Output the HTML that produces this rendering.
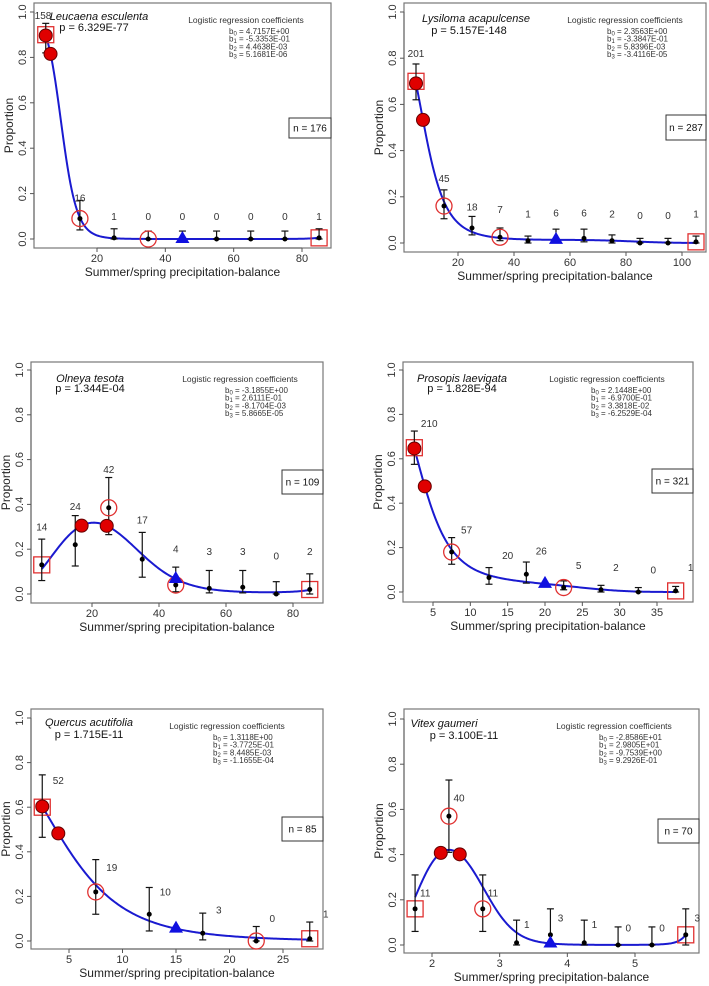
<!DOCTYPE html>
<html><head><meta charset="utf-8"><style>
html,body{margin:0;padding:0;background:#fff}
svg{display:block;font-family:"Liberation Sans",Arial,sans-serif}
</style></head><body>
<svg id="fig" width="709" height="986" viewBox="0 0 709 986"></svg>
<script>
// ---- data arrays (one set per panel) ----
const p1Species="Leucaena esculenta", p1P="p = 6.329E-77", p1Coef=[4.7157,-0.53353,4.4638e-3,5.1681e-6], p1CoefTxt=["4.7157E+00","-5.3353E-01","4.4638E-03","5.1681E-06"];
const p1X=[5,15,25,35,45,55,65,75,85], p1Y=[0.90,0.09,0.005,0,0,0,0,0,0.005], p1Lo=[0.82,0.04,0,0,0,0,0,0,0], p1Hi=[0.95,0.17,0.045,0.035,0.035,0.035,0.035,0.035,0.045];
const p1Cnt=["158","16","1","0","0","0","0","0","1"], p1LX=[4.2,15,25,35,45,55,65,75,85], p1LY=[0.985,0.18,0.10,0.10,0.10,0.10,0.10,0.10,0.10];
const p1Filled=[5,6.4], p1Open=[15,35], p1Sq=[5,85], p1Tri=[45], p1N="n = 176", p1XTicks=[20,40,60,80];

const p2Species="Lysiloma acapulcense", p2P="p = 5.157E-148", p2Coef=[2.3563,-0.33847,5.8396e-3,-3.4116e-5], p2CoefTxt=["2.3563E+00","-3.3847E-01","5.8396E-03","-3.4116E-05"];
const p2X=[5,15,25,35,45,55,65,75,85,95,105], p2Y=[0.70,0.16,0.065,0.025,0.01,0.025,0.02,0.01,0,0,0.005], p2Lo=[0.62,0.105,0.035,0.01,0,0.005,0.005,0,0,0,0], p2Hi=[0.775,0.23,0.115,0.065,0.03,0.06,0.06,0.035,0.02,0.02,0.03];
const p2Cnt=["201","45","18","7","1","6","6","2","0","0","1"], p2LX=[5,15,25,35,45,55,65,75,85,95,105], p2LY=[0.82,0.28,0.155,0.145,0.125,0.13,0.13,0.125,0.12,0.12,0.125];
const p2Filled=[5,7.5], p2Open=[15,35], p2Sq=[5,105], p2Tri=[55], p2N="n = 287", p2XTicks=[20,40,60,80,100];

const p3Species="Olneya tesota", p3P="p = 1.344E-04", p3Coef=[-3.1855,0.26111,-8.1704e-3,5.8665e-5], p3CoefTxt=["-3.1855E+00","2.6111E-01","-8.1704E-03","5.8665E-05"];
const p3X=[5,15,25,35,45,55,65,75,85], p3Y=[0.13,0.22,0.385,0.155,0.04,0.025,0.03,0,0.02], p3Lo=[0.06,0.125,0.265,0.075,0.01,0.005,0.005,0,0], p3Hi=[0.245,0.35,0.52,0.275,0.12,0.105,0.105,0.055,0.09];
const p3Cnt=["14","24","42","17","4","3","3","0","2"], p3LX=[5,15,25,35,45,55,65,75,85], p3LY=[0.30,0.39,0.555,0.33,0.20,0.19,0.19,0.17,0.19];
const p3Filled=[16.9,24.4], p3Open=[25,45], p3Sq=[5,85], p3Tri=[45], p3N="n = 109", p3XTicks=[20,40,60,80];

const p4Species="Prosopis laevigata", p4P="p = 1.828E-94", p4Coef=[2.1448,-0.697,3.3818e-2,-6.2529e-4], p4CoefTxt=["2.1448E+00","-6.9700E-01","3.3818E-02","-6.2529E-04"];
const p4X=[2.5,7.5,12.5,17.5,22.5,27.5,32.5,37.5], p4Y=[0.65,0.18,0.065,0.08,0.02,0.01,0,0.005], p4Lo=[0.575,0.125,0.035,0.04,0.01,0,0,0], p4Hi=[0.725,0.245,0.11,0.135,0.05,0.03,0.02,0.025];
const p4Cnt=["210","57","20","26","5","2","0","1"], p4LX=[4.5,9.5,15,19.5,24.5,29.5,34.5,39.5], p4LY=[0.76,0.28,0.165,0.185,0.12,0.11,0.10,0.11];
const p4Filled=[2.5,3.9], p4Open=[7.5,22.5], p4Sq=[2.5,37.5], p4Tri=[20], p4N="n = 321", p4XTicks=[5,10,15,20,25,30,35];

const p5Species="Quercus acutifolia", p5P="p = 1.715E-11", p5Coef=[1.3118,-0.37725,8.4485e-3,-1.1655e-4], p5CoefTxt=["1.3118E+00","-3.7725E-01","8.4485E-03","-1.1655E-04"];
const p5X=[2.5,7.5,12.5,17.5,22.5,27.5], p5Y=[0.60,0.22,0.12,0.035,0,0.01], p5Lo=[0.465,0.12,0.045,0.005,0,0], p5Hi=[0.745,0.365,0.24,0.125,0.065,0.085];
const p5Cnt=["52","19","10","3","0","1"], p5LX=[4,9,14,19,24,29], p5LY=[0.72,0.33,0.22,0.14,0.10,0.12];
const p5Filled=[2.5,4], p5Open=[7.5,22.5], p5Sq=[2.5,27.5], p5Tri=[15], p5N="n = 85", p5XTicks=[5,10,15,20,25];

const p6Species="Vitex gaumeri", p6P="p = 3.100E-11", p6Coef=[-28.586,29.805,-9.7539,0.92926], p6CoefTxt=["-2.8586E+01","2.9805E+01","-9.7539E+00","9.2926E-01"];
const p6X=[1.75,2.25,2.75,3.25,3.75,4.25,4.75,5.25,5.75], p6Y=[0.16,0.57,0.16,0.01,0.045,0.01,0,0,0.045], p6Lo=[0.06,0.41,0.06,0,0,0,0,0,0], p6Hi=[0.31,0.73,0.31,0.11,0.16,0.11,0.08,0.08,0.16];
const p6Cnt=["11","40","11","1","3","1","0","0","3"], p6LX=[1.9,2.4,2.9,3.4,3.9,4.4,4.9,5.4,5.92], p6LY=[0.23,0.65,0.23,0.09,0.12,0.09,0.075,0.075,0.12];
const p6Filled=[2.13,2.41], p6Open=[2.25,2.75], p6Sq=[1.75,5.75], p6Tri=[3.75], p6N="n = 70", p6XTicks=[2,3,4,5];

// ---- layout (pixel geometry, not data) ----
const panels=[
 {id:1,L:34,R:331,T:3,B:248,y1:12,y0:239,xa:20,pa:97,xb:80,pb:302,tx:65,px:60,hx:212,bx:195,nT:115,nH:20,nW:42,tb:17,pb2:28,
  sp:p1Species,p:p1P,c:p1Coef,ct:p1CoefTxt,X:p1X,Y:p1Y,Lo:p1Lo,Hi:p1Hi,C:p1Cnt,LX:p1LX,LY:p1LY,F:p1Filled,O:p1Open,S:p1Sq,Tr:p1Tri,N:p1N,XT:p1XTicks},
 {id:2,L:404,R:706,T:3,B:252,y1:12,y0:243,xa:20,pa:458,xb:100,pb:682,tx:72,px:65,hx:221,bx:203,nT:112,nH:25,nW:40,tb:19,pb2:31,
  sp:p2Species,p:p2P,c:p2Coef,ct:p2CoefTxt,X:p2X,Y:p2Y,Lo:p2Lo,Hi:p2Hi,C:p2Cnt,LX:p2LX,LY:p2LY,F:p2Filled,O:p2Open,S:p2Sq,Tr:p2Tri,N:p2N,XT:p2XTicks},
 {id:3,L:31,R:323,T:362,B:603,y1:370,y0:594,xa:20,pa:92,xb:80,pb:293,tx:59,px:59,hx:209,bx:194,nT:108,nH:24,nW:41,tb:20,pb2:30,
  sp:p3Species,p:p3P,c:p3Coef,ct:p3CoefTxt,X:p3X,Y:p3Y,Lo:p3Lo,Hi:p3Hi,C:p3Cnt,LX:p3LX,LY:p3LY,F:p3Filled,O:p3Open,S:p3Sq,Tr:p3Tri,N:p3N,XT:p3XTicks},
 {id:4,L:403,R:693,T:362,B:602,y1:370,y0:592,xa:5,pa:433,xb:35,pb:657,tx:59,px:59,hx:204,bx:188,nT:107,nH:24,nW:41,tb:20,pb2:30,
  sp:p4Species,p:p4P,c:p4Coef,ct:p4CoefTxt,X:p4X,Y:p4Y,Lo:p4Lo,Hi:p4Hi,C:p4Cnt,LX:p4LX,LY:p4LY,F:p4Filled,O:p4Open,S:p4Sq,Tr:p4Tri,N:p4N,XT:p4XTicks},
 {id:5,L:31,R:323,T:709,B:949,y1:718,y0:941,xa:5,pa:69,xb:25,pb:283,tx:58,px:58,hx:196,bx:182,nT:108,nH:24,nW:41,tb:17,pb2:29,
  sp:p5Species,p:p5P,c:p5Coef,ct:p5CoefTxt,X:p5X,Y:p5Y,Lo:p5Lo,Hi:p5Hi,C:p5Cnt,LX:p5LX,LY:p5LY,F:p5Filled,O:p5Open,S:p5Sq,Tr:p5Tri,N:p5N,XT:p5XTicks},
 {id:6,L:404,R:699,T:709,B:953,y1:719,y0:945,xa:2,pa:432,xb:5,pb:635,tx:40,px:60,hx:210,bx:195,nT:110,nH:24,nW:41,tb:18,pb2:30,
  sp:p6Species,p:p6P,c:p6Coef,ct:p6CoefTxt,X:p6X,Y:p6Y,Lo:p6Lo,Hi:p6Hi,C:p6Cnt,LX:p6LX,LY:p6LY,F:p6Filled,O:p6Open,S:p6Sq,Tr:p6Tri,N:p6N,XT:p6XTicks}
];
const NS="http://www.w3.org/2000/svg", svg=document.getElementById('fig');
function mk(tag,attrs,parent,txt){const e=document.createElementNS(NS,tag);for(const k in attrs)e.setAttribute(k,attrs[k]);if(txt!==undefined)e.textContent=txt;parent.appendChild(e);return e;}
function logit(c,x){const z=c[0]+c[1]*x+c[2]*x*x+c[3]*x*x*x;return 1/(1+Math.exp(-z));}
panels.forEach(P=>{
  const g=mk('g',{},svg);
  
  
  const k=(P.pb-P.pa)/(P.xb-P.xa);
  const sx=v=>P.pa+(v-P.xa)*k, sy=v=>P.y0+(P.y1-P.y0)*v;
  const box=mk('rect',{x:P.L,y:P.T,width:P.R-P.L,height:P.B-P.T,fill:'none',stroke:'#777','stroke-width':1.2},g);
  
  const ya=mk('g',{},g);
  [0,0.2,0.4,0.6,0.8,1.0].forEach(v=>{
    mk('line',{x1:P.L,x2:P.L-4,y1:sy(v),y2:sy(v),stroke:'#555'},ya);
    const t=mk('text',{x:P.L-8,y:sy(v),'font-size':11,fill:'#333','text-anchor':'middle',transform:`rotate(-90 ${P.L-8} ${sy(v)})`},ya,v.toFixed(1));
    
  });
  mk('line',{x1:P.L,x2:P.L,y1:sy(0),y2:sy(1),stroke:'#555'},ya);
  const yt=mk('text',{x:P.L-21,y:(P.T+P.B)/2,'font-size':12,fill:'#222','text-anchor':'middle',transform:`rotate(-90 ${P.L-21} ${(P.T+P.B)/2})`},ya,'Proportion');
  
  const xa=mk('g',{},g);
  P.XT.forEach(v=>{
    mk('line',{x1:sx(v),x2:sx(v),y1:P.B,y2:P.B+4,stroke:'#555'},xa);
    const t=mk('text',{x:sx(v),y:P.B+14,'font-size':11,fill:'#333','text-anchor':'middle'},xa,String(v));
    
  });
  mk('line',{x1:sx(P.XT[0]),x2:sx(P.XT[P.XT.length-1]),y1:P.B,y2:P.B,stroke:'#555'},xa);
  const xt=mk('text',{x:(P.L+P.R)/2,y:P.B+28,'font-size':12,fill:'#222','text-anchor':'middle'},xa,'Summer/spring precipitation-balance');
  
  const ti=mk('text',{x:P.L+P.tx,y:P.T+P.tb,'font-size':11,'font-style':'italic',fill:'#111','text-anchor':'middle'},g,P.sp);
  
  const pv=mk('text',{x:P.L+P.px,y:P.T+P.pb2,'font-size':11,fill:'#111','text-anchor':'middle'},g,P.p);
  
  const ch=mk('text',{x:P.L+P.hx,y:P.T+20,'font-size':8.5,fill:'#333','text-anchor':'middle'},g,'Logistic regression coefficients');
  
  P.ct.forEach((s,i)=>{
    const t=mk('text',{x:P.L+P.bx,y:P.T+31+i*7.7,'font-size':8,fill:'#333'},g);
    
    mk('tspan',{},t,'b');mk('tspan',{'font-size':6,dy:1.5},t,String(i));mk('tspan',{dy:-1.5},t,' = '+s);
  });
  const nb=mk('g',{},g);
  mk('rect',{x:P.R-P.nW,y:P.T+P.nT,width:P.nW,height:P.nH,fill:'#fff',stroke:'#333','stroke-width':1},nb);
  mk('text',{x:P.R-P.nW/2,y:P.T+P.nT+P.nH/2+3.5,'font-size':10,fill:'#111','text-anchor':'middle'},nb,P.N);
  let d='';const n=200;
  for(let i=0;i<=n;i++){const x=P.X[0]+(P.X[P.X.length-1]-P.X[0])*i/n;d+=(i?'L':'M')+sx(x).toFixed(2)+','+sy(logit(P.c,x)).toFixed(2);}
  const cv=mk('path',{d:d,fill:'none',stroke:'#1a1ad0','stroke-width':2},g);
  
  P.S.forEach(x=>{const i=P.X.indexOf(x);const r=mk('rect',{x:sx(x)-8,y:sy(P.Y[i])-8,width:16,height:16,fill:'none',stroke:'#e03030','stroke-width':1.3},g);
    });
  P.X.forEach((x,i)=>{
    const eb=mk('g',{},g);
    mk('line',{x1:sx(x),x2:sx(x),y1:sy(P.Lo[i]),y2:sy(P.Hi[i]),stroke:'#111','stroke-width':1.2},eb);
    mk('line',{x1:sx(x)-3.5,x2:sx(x)+3.5,y1:sy(P.Lo[i]),y2:sy(P.Lo[i]),stroke:'#111','stroke-width':1.2},eb);
    mk('line',{x1:sx(x)-3.5,x2:sx(x)+3.5,y1:sy(P.Hi[i]),y2:sy(P.Hi[i]),stroke:'#111','stroke-width':1.2},eb);
    const pt=mk('circle',{cx:sx(x),cy:sy(P.Y[i]),r:2.5,fill:'#000'},g);
    
    const lb=mk('text',{x:sx(P.LX[i]),y:sy(P.LY[i])+3.5,'font-size':10,fill:'#333','text-anchor':'middle'},g,P.C[i]);
    
  });
  P.O.forEach(x=>{const i=P.X.indexOf(x);const c=mk('circle',{cx:sx(x),cy:sy(P.Y[i]),r:8,fill:'none',stroke:'#e03030','stroke-width':1.3},g);
    });
  P.F.forEach(x=>{const c=mk('circle',{cx:sx(x),cy:sy(logit(P.c,x)),r:6.5,fill:'#e00000',stroke:'#600','stroke-width':1},g);
    });
  P.Tr.forEach(x=>{const X=sx(x),Y=sy(logit(P.c,x));const t=mk('polygon',{points:`${X},${Y-8} ${X-7},${Y+4} ${X+7},${Y+4}`,fill:'#1010e0'},g);
    });
});
</script>
</body></html>
